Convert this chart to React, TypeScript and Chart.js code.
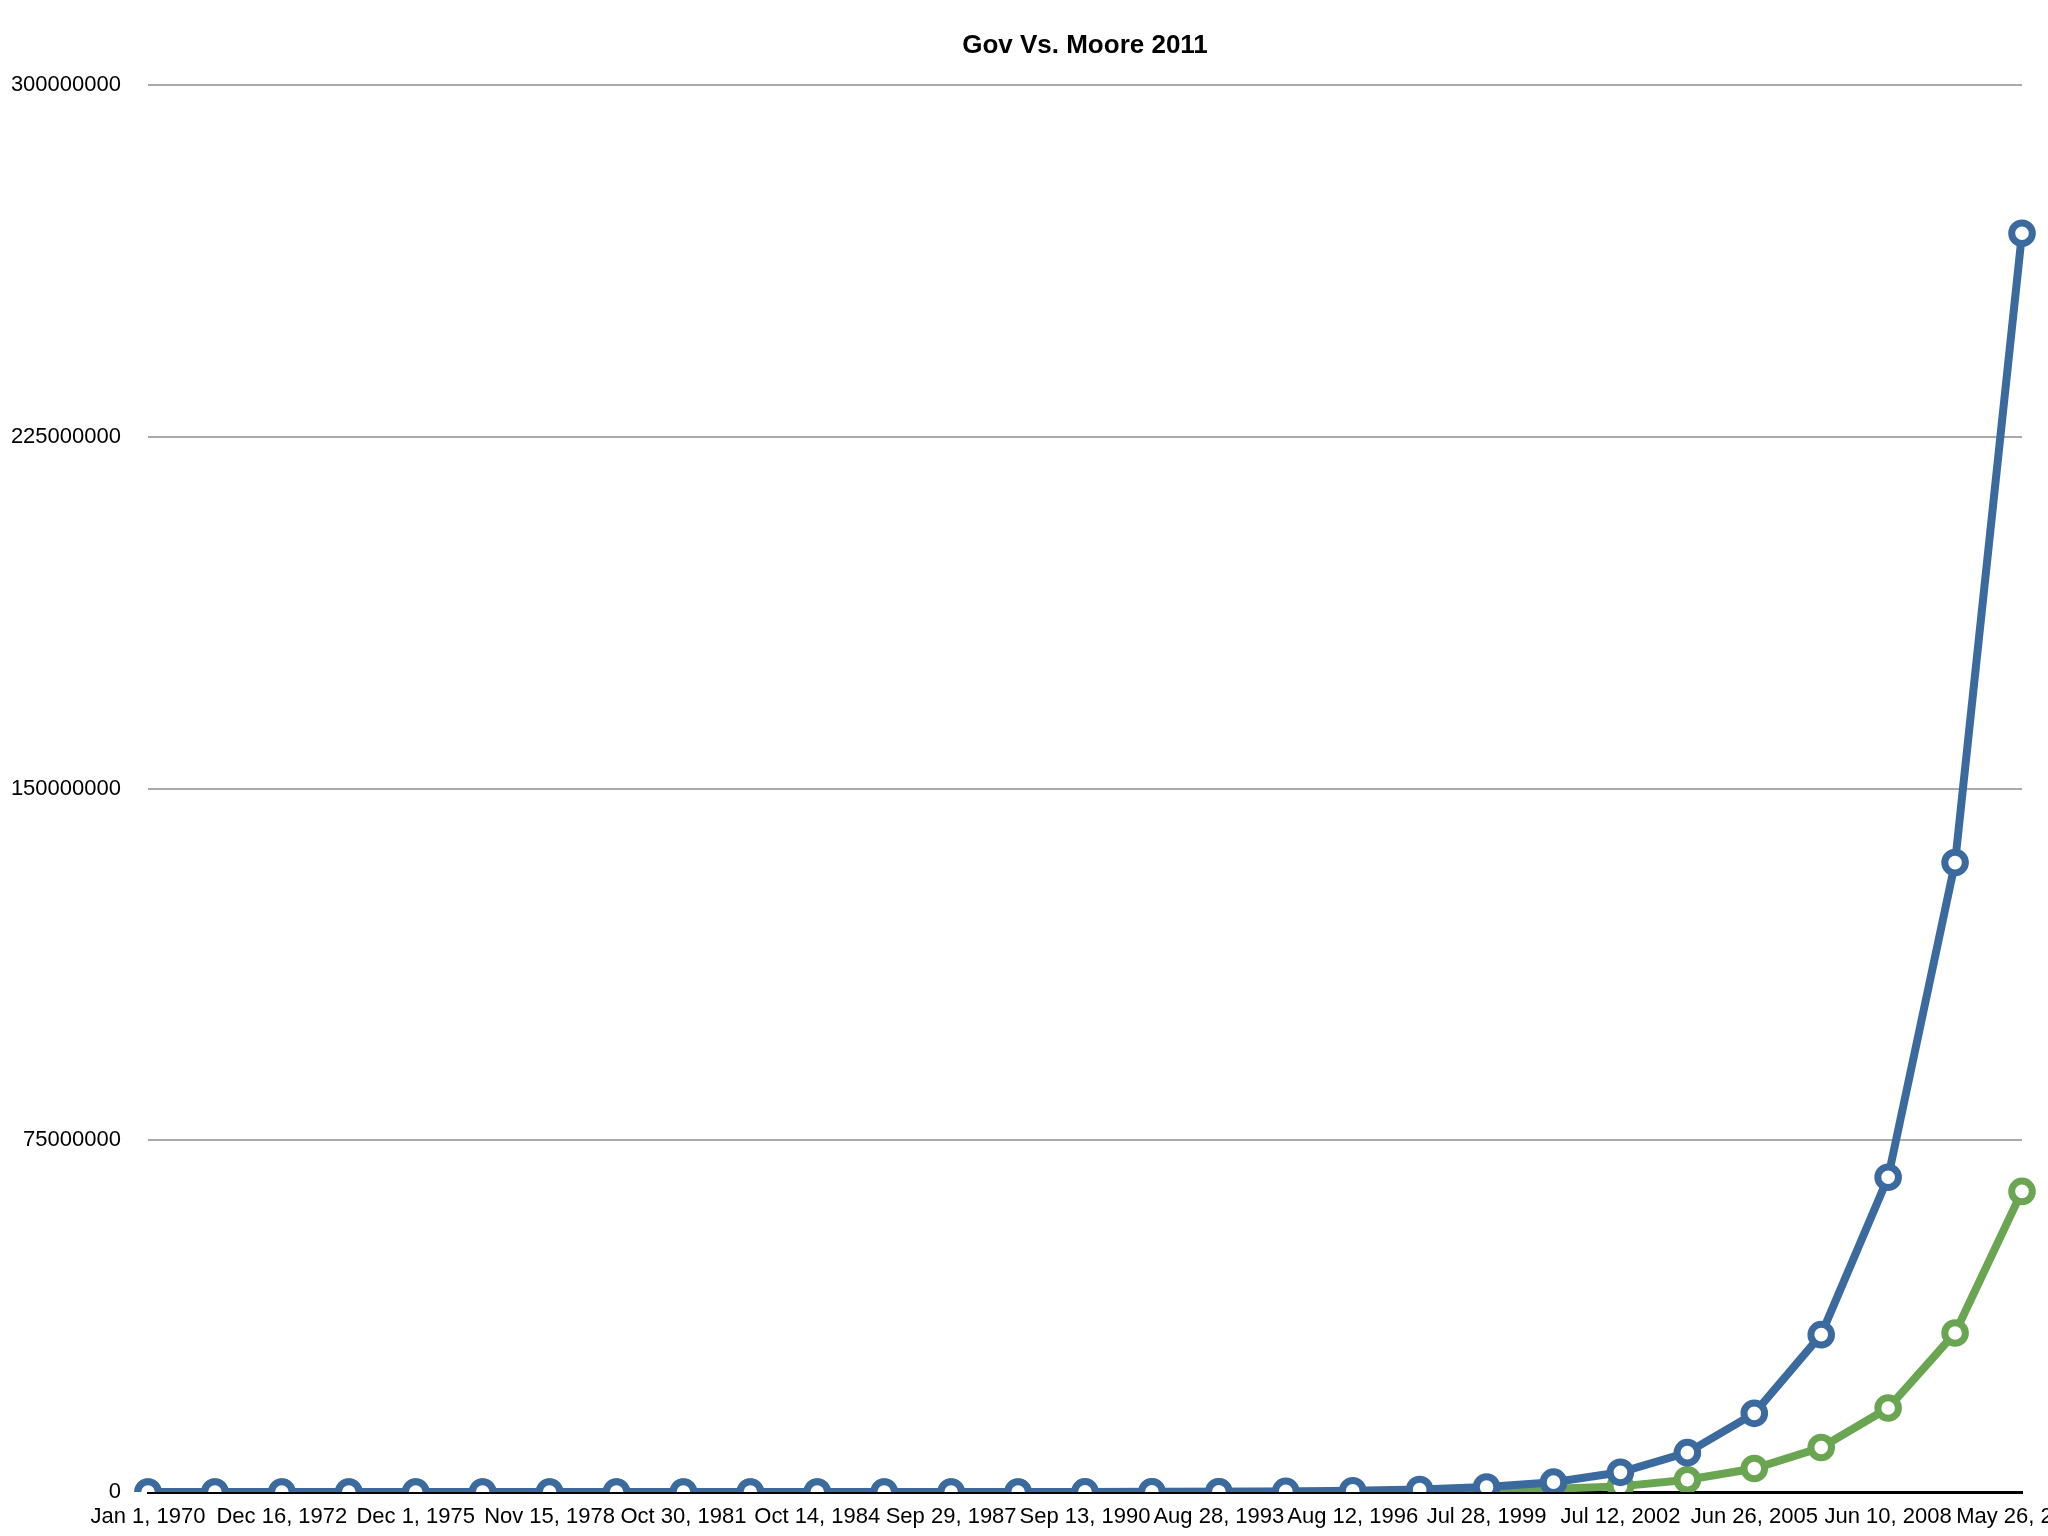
import React, { useEffect, useRef } from "react";
import { Chart, registerables } from "chart.js";

Chart.register(...registerables);

const dateLabels: string[] = [
  "Jan 1, 1970", "Jun 25, 1971", "Dec 16, 1972", "Jun 9, 1974", "Dec 1, 1975",
  "May 24, 1977", "Nov 15, 1978", "May 8, 1980", "Oct 30, 1981", "Apr 23, 1983",
  "Oct 14, 1984", "Apr 7, 1986", "Sep 29, 1987", "Mar 22, 1989", "Sep 13, 1990",
  "Mar 6, 1992", "Aug 28, 1993", "Feb 19, 1995", "Aug 12, 1996", "Feb 3, 1998",
  "Jul 28, 1999", "Jan 18, 2001", "Jul 12, 2002", "Jan 3, 2004", "Jun 26, 2005",
  "Dec 18, 2006", "Jun 10, 2008", "Dec 2, 2009", "May 26, 2011",
];

const mooreValues: number[] = [
  1, 2, 4, 8, 16, 32, 64, 128, 256, 512, 1024, 2048, 4096, 8192, 16384,
  32768, 65536, 131072, 262144, 524288, 1048576, 2097152, 4194304, 8388608,
  16777216, 33554432, 67108864, 134217728, 268435456,
];

const govValues: number[] = [
  1, 2, 4, 8, 15, 28, 53, 100, 190, 360, 680, 1300, 2400, 4600, 8700,
  16000, 31000, 58000, 110000, 210000, 390000, 700000, 1200000, 2600000,
  5000000, 9500000, 17900000, 33900000, 64100000,
];

const yTicks: number[] = [0, 75000000, 150000000, 225000000, 300000000];

const BLUE = "#3b6a9f";
const GREEN = "#6aa552";
const FONT = "'Liberation Sans', Helvetica, Arial, sans-serif";

export default function App() {
  const ref = useRef<HTMLCanvasElement | null>(null);

  useEffect(() => {
    if (!ref.current) return;
    const chart = new Chart(ref.current, {
      type: "line",
      data: {
        labels: dateLabels,
        datasets: [
          {
            label: "Moore",
            data: mooreValues,
            borderColor: BLUE,
            backgroundColor: "#ffffff",
            pointBackgroundColor: "#ffffff",
            pointBorderColor: BLUE,
            borderWidth: 8,
            pointRadius: 10.3,
            pointBorderWidth: 7,
            tension: 0,
          },
          {
            label: "Gov",
            data: govValues,
            borderColor: GREEN,
            backgroundColor: "#ffffff",
            pointBackgroundColor: "#ffffff",
            pointBorderColor: GREEN,
            borderWidth: 8,
            pointRadius: 10.3,
            pointBorderWidth: 7,
            tension: 0,
          },
        ],
      },
      options: {
        responsive: false,
        animation: false,
        layout: { padding: { left: 0, right: 26, top: 0, bottom: 0 } },
        plugins: {
          legend: { display: false },
          tooltip: { enabled: false },
          title: {
            display: true,
            fullSize: false,
            text: "Gov Vs. Moore 2011",
            color: "#000000",
            font: { family: FONT, size: 26, weight: "bold" },
            padding: { top: 30, bottom: 24 },
          },
        },
        scales: {
          x: {
            type: "category",
            offset: false,
            grid: { display: true, drawOnChartArea: false, drawTicks: false },
            border: { display: true, color: "#000000", width: 3 },
            ticks: {
              autoSkip: false,
              maxRotation: 0,
              minRotation: 0,
              padding: 12,
              color: "#000000",
              font: { family: FONT, size: 22 },
              callback: (_v: any, i: number) => (i % 2 === 0 ? dateLabels[i] : ""),
            },
            afterFit: (scale: any) => {
              scale.paddingRight = 0;
              scale.height = 44;
            },
          },
          y: {
            min: yTicks[0],
            max: yTicks[yTicks.length - 1],
            afterBuildTicks: (scale: any) => {
              scale.ticks = yTicks.map((v) => ({ value: v }));
            },
            grid: {
              drawTicks: false,
              lineWidth: 2,
              color: (ctx: any) => (ctx.tick && ctx.tick.value === 0 ? "rgba(0,0,0,0)" : "#a9a9a9"),
            },
            border: { display: false },
            ticks: {
              padding: 27,
              color: "#000000",
              font: { family: FONT, size: 22 },
              callback: (v: any) => String(v),
            },
            afterFit: (scale: any) => {
              scale.width = 148;
            },
          },
        },
      },
    });
    return () => chart.destroy();
  }, []);

  return (
    <div style={{ position: "absolute", left: 0, top: 0, width: 2048, height: 1536, overflow: "hidden" }}>
      <canvas ref={ref} width={2048} height={1536} style={{ width: 2048, height: 1536, display: "block" }} />
    </div>
  );
}
